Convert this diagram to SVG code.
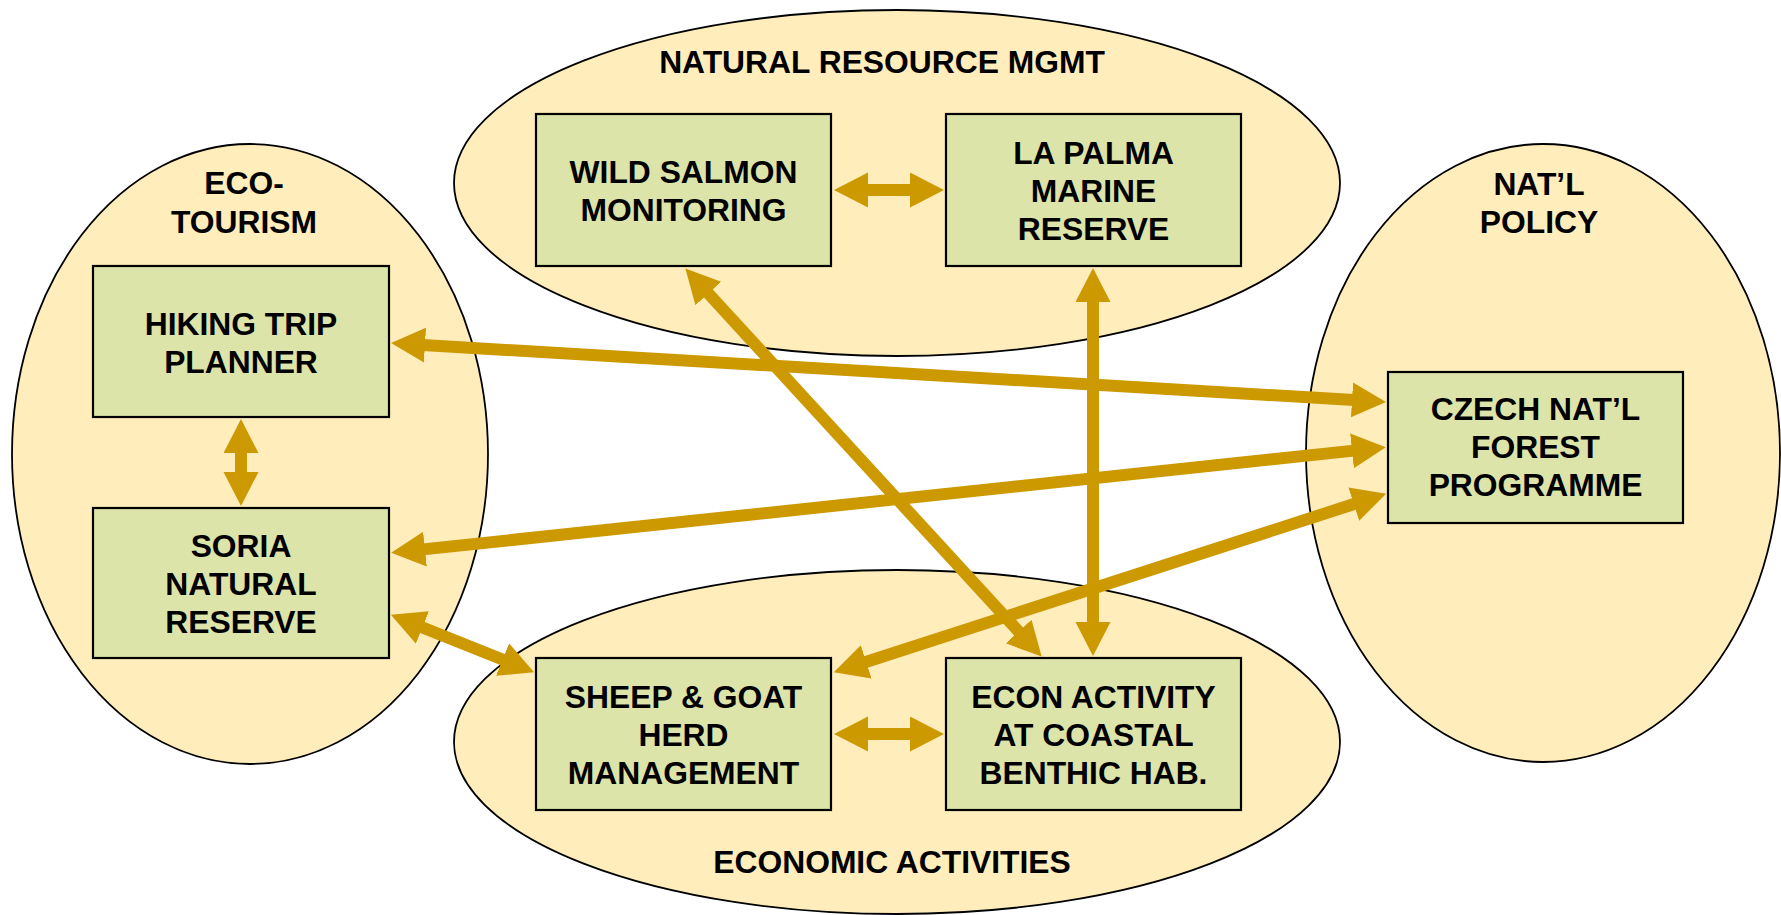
<svg xmlns="http://www.w3.org/2000/svg" width="1781" height="915" viewBox="0 0 1781 915">
<style>
.grp{fill:#FFEDBC;stroke:#000;stroke-width:1.8}
.box{fill:#DDE4AA;stroke:#000;stroke-width:2.2}
text{font-family:"Liberation Sans",Arial,sans-serif;font-weight:bold;font-size:31.8px;fill:#000;text-anchor:middle}
.con line{stroke:#CC9900;stroke-width:12;fill:none;marker-start:url(#ah);marker-end:url(#ah)}
</style>
<defs>
<marker id="ah" markerUnits="userSpaceOnUse" markerWidth="36" markerHeight="36" refX="2" refY="17.5" orient="auto-start-reverse" viewBox="0 0 36 36">
<path d="M0,0 L34,17.5 L0,35 Z" fill="#CC9900"/>
</marker>
</defs>
<rect width="1781" height="915" fill="#fff"/>
<g id="eco-tourism">
<ellipse class="grp" cx="250" cy="454" rx="238" ry="310"/>
<text x="244" y="194">ECO-</text>
<text x="244" y="233">TOURISM</text>
</g>
<g id="natural-resource-mgmt">
<ellipse class="grp" cx="897" cy="183" rx="443" ry="173"/>
<text x="882" y="73">NATURAL RESOURCE MGMT</text>
</g>
<g id="natl-policy">
<ellipse class="grp" cx="1543" cy="453" rx="237" ry="309"/>
<text x="1539" y="195">NAT’L</text>
<text x="1539" y="233">POLICY</text>
</g>
<g id="economic-activities">
<ellipse class="grp" cx="897" cy="742" rx="443" ry="172"/>
<text x="892" y="873">ECONOMIC ACTIVITIES</text>
</g>
<g id="hiking">
<rect class="box" x="93" y="266" width="296" height="151"/>
<text x="241" y="335">HIKING TRIP</text>
<text x="241" y="373">PLANNER</text>
</g>
<g id="soria">
<rect class="box" x="93" y="508" width="296" height="150"/>
<text x="241" y="557">SORIA</text>
<text x="241" y="595">NATURAL</text>
<text x="241" y="633">RESERVE</text>
</g>
<g id="salmon">
<rect class="box" x="536" y="114" width="295" height="152"/>
<text x="683.5" y="182.5">WILD SALMON</text>
<text x="683.5" y="220.5">MONITORING</text>
</g>
<g id="lapalma">
<rect class="box" x="946" y="114" width="295" height="152"/>
<text x="1093.5" y="163.5">LA PALMA</text>
<text x="1093.5" y="201.5">MARINE</text>
<text x="1093.5" y="239.5">RESERVE</text>
</g>
<g id="czech">
<rect class="box" x="1388" y="372" width="295" height="151"/>
<text x="1535.5" y="420">CZECH NAT’L</text>
<text x="1535.5" y="458">FOREST</text>
<text x="1535.5" y="496">PROGRAMME</text>
</g>
<g id="sheep">
<rect class="box" x="536" y="658" width="295" height="152"/>
<text x="683.5" y="707.5">SHEEP &amp; GOAT</text>
<text x="683.5" y="745.5">HERD</text>
<text x="683.5" y="783.5">MANAGEMENT</text>
</g>
<g id="econ">
<rect class="box" x="946" y="658" width="295" height="152"/>
<text x="1093.5" y="707.5">ECON ACTIVITY</text>
<text x="1093.5" y="745.5">AT COASTAL</text>
<text x="1093.5" y="783.5">BENTHIC HAB.</text>
</g>
<g id="connectors" class="con">
<line x1="241" y1="451" x2="241" y2="474"/>
<line x1="866" y1="190" x2="912" y2="190"/>
<line x1="1093" y1="300" x2="1093" y2="624"/>
<line x1="707" y1="292" x2="1020" y2="633"/>
<line x1="423" y1="345" x2="1354" y2="400"/>
<line x1="423" y1="549.4" x2="1354" y2="450.6"/>
<line x1="864.3" y1="662.5" x2="1355.7" y2="503.5"/>
<line x1="420.6" y1="626.7" x2="504.4" y2="660.3"/>
<line x1="866" y1="734" x2="912" y2="734"/>
</g>
</svg>
